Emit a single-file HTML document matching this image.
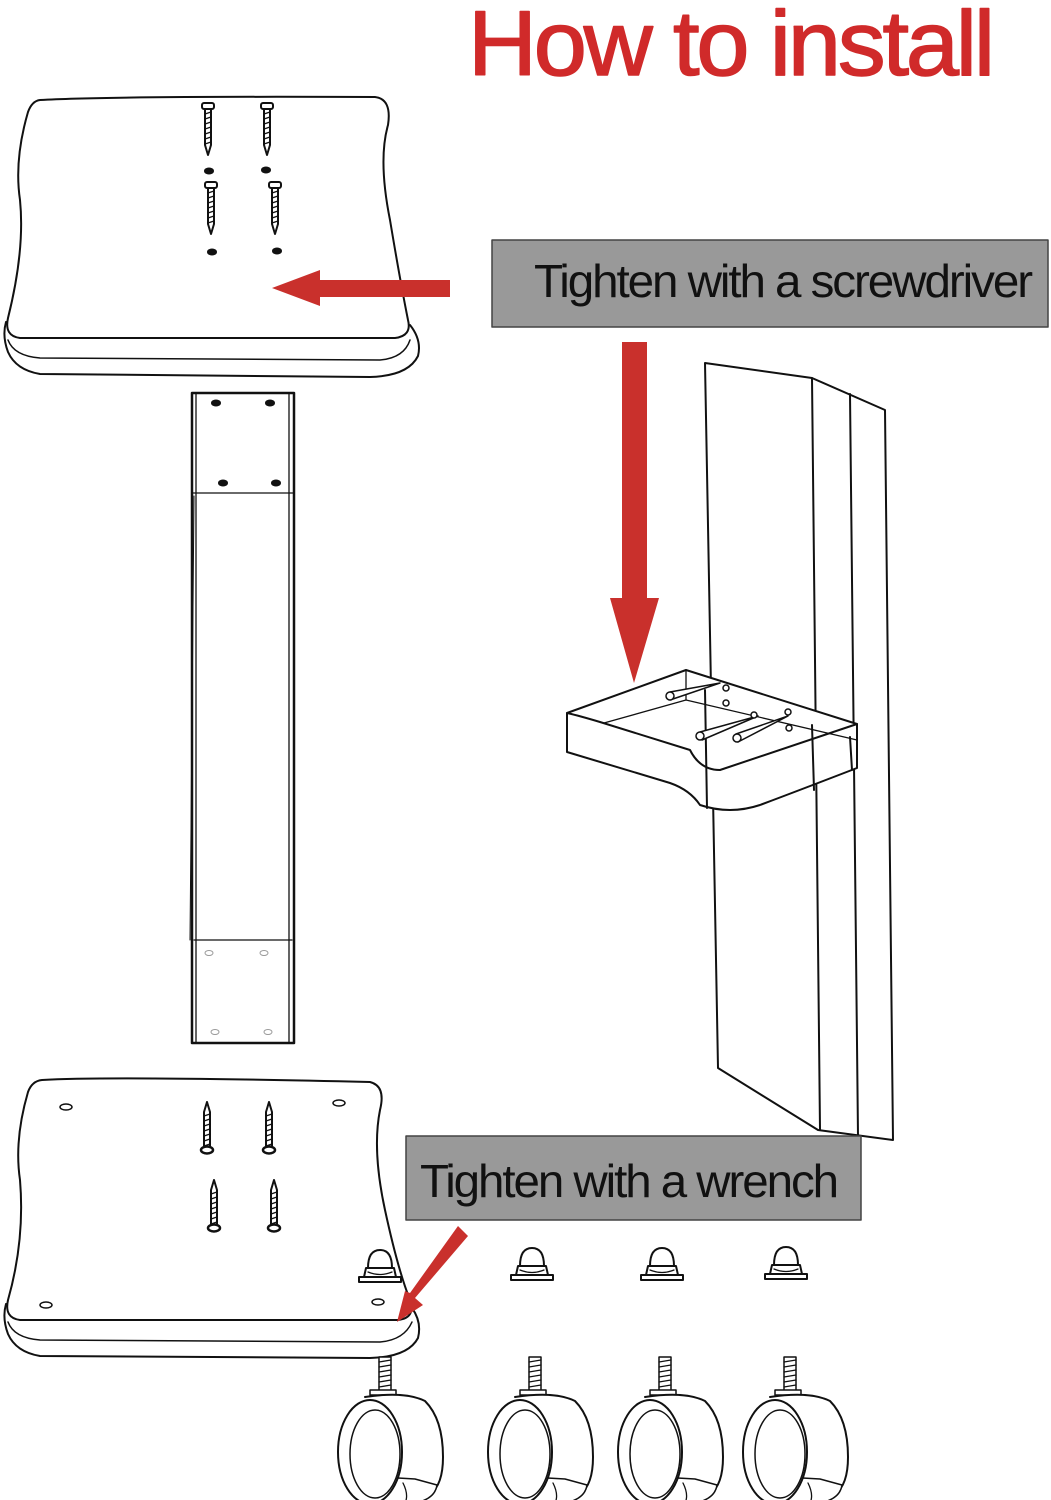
<!DOCTYPE html>
<html><head><meta charset="utf-8"><style>
html,body{margin:0;padding:0;background:#fff;width:1051px;height:1500px;overflow:hidden}
svg{display:block}
</style></head><body>
<svg width="1051" height="1500" viewBox="0 0 1051 1500" xmlns="http://www.w3.org/2000/svg" fill="none" stroke="#111" stroke-width="2" stroke-linejoin="round" stroke-linecap="round">
<defs>
<g id="screw">
<rect x="-6" y="0" width="12" height="6" rx="2" fill="#fff" stroke-width="2"/>
<path d="M-3 6 L-3 42 L0 52 L3 42 L3 6 Z" fill="#fff" stroke-width="2"/>
<path d="M-3 11 L3 9 M-3 16 L3 14 M-3 21 L3 19 M-3 26 L3 24 M-3 31 L3 29 M-3 36 L3 34 M-3 41 L3 39" stroke-width="1.2"/>
</g>
<g id="screwUp">
<path d="M-3 46 L-3 10 L0 0 L3 10 L3 46 Z" fill="#fff" stroke-width="2"/>
<path d="M-3 14 L3 12 M-3 19 L3 17 M-3 24 L3 22 M-3 29 L3 27 M-3 34 L3 32 M-3 39 L3 37 M-3 44 L3 42" stroke-width="1.2"/>
<ellipse cx="0" cy="48" rx="6" ry="3.5" fill="#fff" stroke-width="2.5"/>
</g>
<g id="nut">
<path d="M-12 0 Q-12 -18 0 -18 Q12 -18 12 0" fill="#fff"/>
<path d="M-14 0 L14 0 L16 9 L-16 9 Z" fill="#fff"/>
<path d="M-12 4 Q0 9 12 4" stroke-width="1.3"/>
<rect x="-21" y="9" width="42" height="5" fill="#fff"/>
</g>
<g id="caster">
<rect x="-6" y="0" width="12" height="34" fill="#fff" stroke-width="1.5"/>
<path d="M-6 5 L6 3 M-6 10 L6 8 M-6 15 L6 13 M-6 20 L6 18 M-6 25 L6 23 M-6 30 L6 28" stroke-width="1.3"/>
<rect x="-15" y="33" width="26" height="5" fill="#fff" stroke-width="1.5"/>
<path d="M-20 40 Q20 34 40 44 Q58 62 58 100 Q58 128 45 137 L5 140" fill="#fff"/>
<path d="M-5 120 L30 122 L52 128 Q50 142 30 146 L0 145" fill="#fff" stroke-width="1.5"/>
<path d="M18 126 Q24 138 20 146" stroke-width="1.3"/>
<ellipse cx="-15" cy="95" rx="32" ry="52" fill="#fff"/>
<ellipse cx="-10" cy="97" rx="25" ry="44" fill="#fff" stroke-width="1.5"/>
</g>
</defs>

<text x="468" y="75" font-family="Liberation Sans, sans-serif" font-size="92" fill="#d02a2a" stroke="#d02a2a" stroke-width="1.5" textLength="524" lengthAdjust="spacingAndGlyphs" letter-spacing="-3">How to install</text>

<path d="M40 100 Q110 96 375 97 Q392 99 388 125 Q378 160 390 220 Q400 280 408 320 Q412 336 395 338 L20 338 Q4 336 8 318 Q25 250 20 200 Q14 160 28 112 Q32 101 40 100 Z" fill="#fff"/>
<path d="M6 322 Q2 336 8 352 Q16 370 40 374 L370 377 Q408 376 418 356 Q422 340 410 325" fill="none"/>
<path d="M8 340 Q14 356 40 358 L380 360 Q404 358 410 340" fill="none" stroke-width="1.5"/>
<use href="#screw" x="208" y="103"/>
<use href="#screw" x="267" y="103"/>
<use href="#screw" x="211" y="182"/>
<use href="#screw" x="275" y="182"/>
<ellipse cx="209" cy="171" rx="4" ry="2.5" fill="#111"/>
<ellipse cx="266" cy="170" rx="4" ry="2.5" fill="#111"/>
<ellipse cx="212" cy="252" rx="4" ry="2.5" fill="#111"/>
<ellipse cx="277" cy="251" rx="4" ry="2.5" fill="#111"/>

<path d="M450 280 L320 280 L320 270 L272 288 L320 306 L320 297 L450 297 Z" fill="#c9302c" stroke="none"/>

<rect x="492" y="240" width="556" height="87" fill="#999" stroke="#444" stroke-width="1.5"/>
<text x="534" y="297" font-family="Liberation Sans, sans-serif" font-size="46" fill="#111" stroke="none" textLength="497" lengthAdjust="spacingAndGlyphs" letter-spacing="-2">Tighten with a screwdriver</text>

<path d="M622 342 L647 342 L647 598 L659 598 L634 683 L610 598 L622 598 Z" fill="#c9302c" stroke="none"/>

<rect x="192" y="393" width="102" height="650" fill="#fff" stroke-width="2.5"/>
<path d="M196 393 L196 1043 M289 393 L289 1043 M192 493 L294 493 M194 940 L292 940" stroke-width="1.3"/>
<path d="M194 496 L190 940" stroke-width="1"/>
<ellipse cx="216" cy="403" rx="4" ry="2.5" fill="#111"/>
<ellipse cx="270" cy="403" rx="4" ry="2.5" fill="#111"/>
<ellipse cx="223" cy="483" rx="4" ry="2.5" fill="#111"/>
<ellipse cx="276" cy="483" rx="4" ry="2.5" fill="#111"/>
<ellipse cx="209" cy="953" rx="4" ry="2.5" stroke="#999" stroke-width="1"/>
<ellipse cx="264" cy="953" rx="4" ry="2.5" stroke="#999" stroke-width="1"/>
<ellipse cx="215" cy="1032" rx="4" ry="2.5" stroke="#999" stroke-width="1"/>
<ellipse cx="268" cy="1032" rx="4" ry="2.5" stroke="#999" stroke-width="1"/>

<path d="M705 363 L812 378 L885 410 L893 1140 L818 1130 L718 1068 Z" fill="#fff"/>
<path d="M812 378 L820 1130 M850 394 L858 1136" stroke-width="2"/>

<path d="M567 713 L686 670 L857 724 L857 768 Q800 790 760 805 Q730 815 700 805 Q690 790 670 783 L567 752 Z" fill="#fff"/>
<path d="M567 713 Q580 716 600 722 L690 750 Q700 770 720 770 L857 724" />
<path d="M604 723 L686 700 L857 740" stroke-width="1.3"/>
<path d="M686 670 L686 700" stroke-width="1.3"/>
<path d="M705 690 L707 808 M812 725 L814 790 M850 737 L852 770" stroke-width="2"/>
<g stroke-width="1.5">
<path d="M670 692 L720 683 L670 700 Z" fill="#fff"/>
<circle cx="670" cy="696" r="4" fill="#fff"/>
<path d="M700 732 L758 716 L702 740 Z" fill="#fff"/>
<circle cx="700" cy="736" r="4" fill="#fff"/>
<path d="M736 734 L788 716 L738 742 Z" fill="#fff"/>
<circle cx="737" cy="738" r="4" fill="#fff"/>
<circle cx="726" cy="688" r="3" fill="#fff"/>
<circle cx="726" cy="703" r="3" fill="#fff"/>
<circle cx="754" cy="715" r="3" fill="#fff"/>
<circle cx="788" cy="712" r="3" fill="#fff"/>
<circle cx="789" cy="728" r="3" fill="#fff"/>
</g>

<path d="M42 1080 Q110 1076 370 1082 Q386 1086 380 1110 Q372 1150 385 1210 Q398 1270 410 1300 Q416 1318 398 1320 L20 1320 Q4 1318 8 1300 Q25 1240 20 1180 Q14 1140 28 1092 Q32 1081 42 1080 Z" fill="#fff"/>
<path d="M6 1304 Q2 1318 8 1334 Q16 1352 40 1356 L370 1358 Q408 1357 418 1338 Q422 1322 412 1308" fill="none"/>
<path d="M8 1322 Q14 1338 40 1340 L380 1342 Q404 1340 412 1322" fill="none" stroke-width="1.5"/>
<ellipse cx="66" cy="1107" rx="6" ry="3" stroke-width="1.5"/>
<ellipse cx="339" cy="1103" rx="6" ry="3" stroke-width="1.5"/>
<ellipse cx="46" cy="1305" rx="6" ry="3" stroke-width="1.5"/>
<ellipse cx="378" cy="1302" rx="6" ry="3" stroke-width="1.5"/>
<use href="#screwUp" x="207" y="1102"/>
<use href="#screwUp" x="269" y="1102"/>
<use href="#screwUp" x="214" y="1180"/>
<use href="#screwUp" x="274" y="1180"/>

<rect x="406" y="1136" width="455" height="84" fill="#999" stroke="#444" stroke-width="1.5"/>
<text x="420" y="1197" font-family="Liberation Sans, sans-serif" font-size="46" fill="#111" stroke="none" textLength="417" lengthAdjust="spacingAndGlyphs" letter-spacing="-2">Tighten with a wrench</text>

<use href="#nut" x="380" y="1268"/>
<use href="#nut" x="532" y="1266"/>
<use href="#nut" x="662" y="1266"/>
<use href="#nut" x="786" y="1265"/>

<path d="M458 1226 L468 1236 L415 1298 L423 1305 L397 1322 L405 1291 L410 1293 Z" fill="#c9302c" stroke="none"/>

<use href="#caster" x="385" y="1357"/>
<use href="#caster" x="535" y="1357"/>
<use href="#caster" x="665" y="1357"/>
<use href="#caster" x="790" y="1357"/>
</svg>
</body></html>
